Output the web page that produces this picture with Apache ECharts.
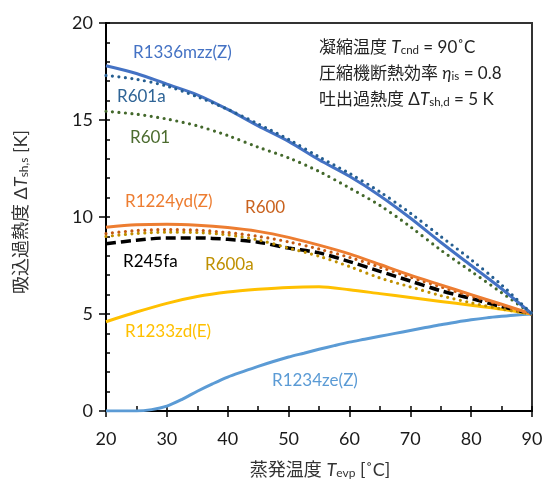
<!DOCTYPE html>
<html><head><meta charset="utf-8">
<script src="https://cdn.jsdelivr.net/npm/echarts@6/dist/echarts.min.js"></script>
<style>html,body{margin:0;padding:0;background:#fff}#c{width:552px;height:489px}</style>
</head><body><div id="c"></div>
<script>
// evaporation temperature [°C]
const T = [20,25,30,35,40,45,50,55,60,65,70,75,80,85,90];
const R1336mzzZ = [17.8,17.4,16.85,16.3,15.55,14.7,13.9,12.95,12.1,11.1,9.95,8.7,7.5,6.3,5.0];
const R601a     = [17.3,17.1,16.75,16.2,15.55,14.8,14.0,13.1,12.25,11.3,10.2,9.0,7.8,6.5,5.0];
const R601      = [15.45,15.3,15.05,14.7,14.2,13.6,13.05,12.35,11.5,10.6,9.5,8.3,7.2,6.1,5.0];
const R1224ydZ  = [9.47,9.6,9.63,9.58,9.46,9.26,8.95,8.55,8.1,7.55,7.0,6.5,6.0,5.5,5.0];
const R600      = [9.15,9.3,9.35,9.32,9.2,9.0,8.72,8.35,7.92,7.42,6.9,6.4,5.92,5.45,5.0];
const R600a     = [9.0,9.15,9.22,9.2,9.08,8.82,8.4,7.98,7.45,6.86,6.4,5.95,5.58,5.26,5.0];
const R245fa    = [8.62,8.8,8.92,8.92,8.85,8.7,8.4,8.15,7.7,7.2,6.7,6.2,5.8,5.38,5.0];
const R1233zdE  = [4.6,5.1,5.55,5.9,6.13,6.27,6.37,6.4,6.25,6.05,5.85,5.65,5.45,5.25,5.0];
const T_ze      = [20,22.5,25,27.5,30,32.5,35,37.5,40,42.5,45,47.5,50,52.5,55,57.5,60,62.5,65,67.5,70,72.5,75,77.5,80,82.5,85,87.5,90];
const R1234zeZ  = [0,0,0,0.07,0.25,0.6,1.02,1.4,1.75,2.03,2.3,2.55,2.78,2.98,3.18,3.37,3.55,3.7,3.85,4.0,4.15,4.3,4.45,4.58,4.7,4.8,4.88,4.95,5.0];
const xTicks = [20,30,40,50,60,70,80,90];
const yTicks = [0,5,10,15,20];

const FONT = 'Lato, "Noto Sans CJK JP", sans-serif';
const pair = (xs, ys) => xs.map((x, i) => [x, ys[i]]);

const DOT = [0, 6.5];
const seriesDefs = [
  {name:'R1234ze(Z)', x:T_ze, y:R1234zeZ, color:'#5B9BD5', type:'solid', w:3},
  {name:'R1233zd(E)', x:T, y:R1233zdE, color:'#FFC000', type:'solid', w:3},
  {name:'R245fa', x:T, y:R245fa, color:'#000000', type:[10,5], w:3.5, cap:'butt'},
  {name:'R600a', x:T, y:R600a, color:'#BF9000', type:DOT, w:3.2, cap:'round'},
  {name:'R600', x:T, y:R600, color:'#C55A11', type:DOT, w:3.2, cap:'round'},
  {name:'R1224yd(Z)', x:T, y:R1224ydZ, color:'#ED7D31', type:'solid', w:3},
  {name:'R601', x:T, y:R601, color:'#43682B', type:DOT, w:3.2, cap:'round'},
  {name:'R1336mzz(Z)', x:T, y:R1336mzzZ, color:'#4472C4', type:'solid', w:3},
  {name:'R601a', x:T, y:R601a, color:'#255E91', type:DOT, w:3.2, cap:'round'}
];

const curveLabels = [
  {text:'R1336mzz(Z)', color:'#4472C4', x:133, y:53},
  {text:'R601a', color:'#2E6496', x:117, y:97},
  {text:'R601', color:'#4B6B2E', x:130, y:138},
  {text:'R1224yd(Z)', color:'#ED7D31', x:125, y:202},
  {text:'R600', color:'#C9621E', x:245, y:208},
  {text:'R245fa', color:'#000000', x:123, y:262},
  {text:'R600a', color:'#BF9000', x:205, y:265},
  {text:'R1233zd(E)', color:'#FFC000', x:125, y:332},
  {text:'R1234ze(Z)', color:'#5B9BD5', x:272, y:381}
];

const chart = echarts.init(document.getElementById('c'), null, {renderer:'canvas'});

const baseAxis = {
  type:'value',
  axisLine:{show:true, onZero:false, lineStyle:{color:'#000', width:2}},
  splitLine:{show:false}
};

const richSub = {
  i:{fontFamily:FONT, fontStyle:'italic', fontSize:18, fill:'#333'},
  sub:{fontFamily:FONT, fontSize:12, fill:'#333', verticalAlign:'bottom', lineHeight:14},
  n:{fontFamily:FONT, fontSize:18, fill:'#333'}
};

const option = {
  animation:false,
  backgroundColor:'#fff',
  grid:{left:106, right:20, top:23, bottom:78, show:true, borderColor:'#333', borderWidth:2, backgroundColor:'transparent'},
  xAxis:[
    Object.assign({}, baseAxis, {
      min:20, max:90, interval:10, position:'bottom',
      axisTick:{show:true, inside:true, length:5, lineStyle:{color:'#000', width:1.5}},
      minorTick:{show:true, splitNumber:2, length:5, lineStyle:{color:'#000', width:1.5}},
      axisLabel:{fontFamily:FONT, fontSize:18, color:'#1a1a1a', margin:19,
        formatter: v => xTicks.includes(v) ? String(v) : ''}
    }),
    Object.assign({}, baseAxis, {
      min:20, max:90, interval:10, position:'bottom', offset:0,
      axisLine:{show:false},
      axisTick:{show:true, inside:false, length:6, lineStyle:{color:'#000', width:1.5}},
      axisLabel:{show:false}
    })
  ],
  yAxis:[
    Object.assign({}, baseAxis, {
      min:0, max:20, interval:5, position:'left',
      axisTick:{show:true, inside:true, length:4, lineStyle:{color:'#000', width:1.5}},
      minorTick:{show:true, splitNumber:5, length:4, lineStyle:{color:'#000', width:1.5}},
      axisLabel:{fontFamily:FONT, fontSize:18, color:'#1a1a1a', margin:13,
        formatter: v => yTicks.includes(v) ? String(v) : ''}
    }),
    Object.assign({}, baseAxis, {
      min:0, max:20, interval:5, position:'left', offset:0,
      axisLine:{show:false},
      axisTick:{show:true, inside:false, length:7, lineStyle:{color:'#000', width:1.5}},
      axisLabel:{show:false}
    })
  ],
  series: seriesDefs.map(s => ({
    name:s.name, type:'line', xAxisIndex:0, yAxisIndex:0,
    data: pair(s.x, s.y), smooth:0.3, showSymbol:false, symbol:'none',
    lineStyle:{color:s.color, width:s.w, type:s.type, cap:s.cap || 'butt'}
  })),
  graphic: [
    ...curveLabels.map(l => ({
      type:'text', z:100, x:l.x, y:l.y,
      style:{text:l.text, fontFamily:FONT, fontSize:17, fill:l.color, verticalAlign:'middle', align:'left'}
    })),
    {type:'text', z:100, x:319, y:48, style:{
      text:'{n|凝縮温度 }{i|T}{sub|cnd}{n| = 90˚C}', verticalAlign:'middle', align:'left',
      rich:{n:{fontFamily:FONT, fontSize:17, fill:'#222'}, i:{fontFamily:FONT, fontStyle:'italic', fontSize:17, fill:'#222'},
            sub:{fontFamily:FONT, fontSize:11.5, fill:'#222', verticalAlign:'bottom', lineHeight:12}}}},
    {type:'text', z:100, x:319, y:74, style:{
      text:'{n|圧縮機断熱効率 }{i|η}{sub|is}{n| = 0.8}', verticalAlign:'middle', align:'left',
      rich:{n:{fontFamily:FONT, fontSize:17, fill:'#222'}, i:{fontFamily:FONT, fontStyle:'italic', fontSize:17, fill:'#222'},
            sub:{fontFamily:FONT, fontSize:11.5, fill:'#222', verticalAlign:'bottom', lineHeight:12}}}},
    {type:'text', z:100, x:319, y:100, style:{
      text:'{n|吐出過熱度 Δ}{i|T}{sub|sh,d}{n| = 5 K}', verticalAlign:'middle', align:'left',
      rich:{n:{fontFamily:FONT, fontSize:17, fill:'#222'}, i:{fontFamily:FONT, fontStyle:'italic', fontSize:17, fill:'#222'},
            sub:{fontFamily:FONT, fontSize:11.5, fill:'#222', verticalAlign:'bottom', lineHeight:12}}}},
    {type:'text', z:100, x:320, y:470, style:{
      text:'{n|蒸発温度 }{i|T}{sub|evp}{n| [˚C]}', verticalAlign:'middle', align:'center',
      rich:richSub}},
    {type:'text', z:100, x:21, y:212, rotation:Math.PI/2, style:{
      text:'{n|吸込過熱度 Δ}{i|T}{sub|sh,s}{n| [K]}', verticalAlign:'middle', align:'center',
      rich:richSub}}
  ]
};
chart.setOption(option);
</script>
</body></html>
